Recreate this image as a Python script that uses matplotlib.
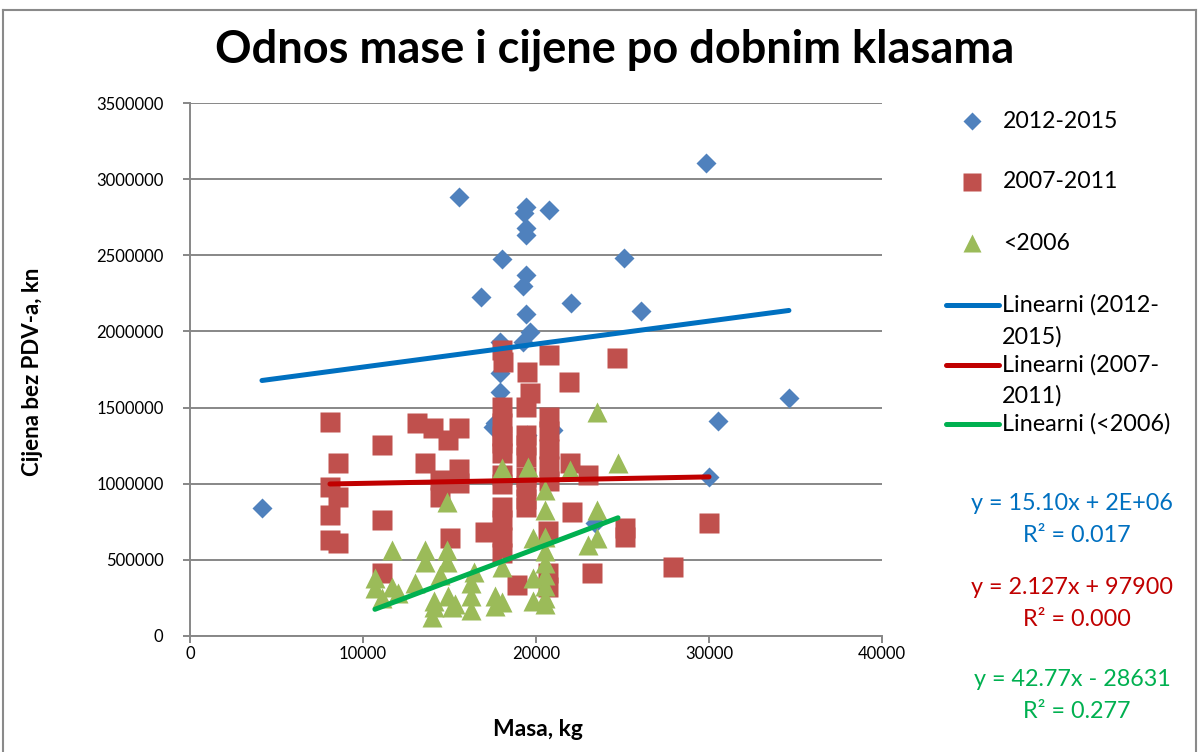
import matplotlib
matplotlib.use("Agg")
import matplotlib.pyplot as plt
from matplotlib.lines import Line2D
from matplotlib.ticker import FuncFormatter

plt.rcParams['font.family'] = ['Lato', 'DejaVu Sans']

# ---------------- data ----------------
title = "Odnos mase i cijene po dobnim klasama"
x_label = "Masa, kg"
y_label = "Cijena bez PDV-a, kn"
series_names = ["2012-2015", "2007-2011", "<2006"]
trend_names = ["Linearni (2012-", "2015)", "Linearni (2007-", "2011)", "Linearni (<2006)"]

blue_x = [4160, 15550, 19420, 19300, 19420, 19420, 18030, 19420, 19250, 16820,
          19420, 19650, 19250, 17920, 17920, 17920, 29830, 20750, 25080, 22020,
          26070, 34620, 30520, 30000, 23410, 17630, 19480, 17510, 20980]
blue_y = [840000, 2883000, 2817000, 2778000, 2679000, 2633000, 2476000, 2371000, 2298000, 2226000,
          2115000, 1996000, 1931000, 1931000, 1727000, 1600000, 3106000, 2797000, 2482000, 2187000,
          2134000, 1563000, 1412000, 1044000, 742000, 1400000, 1320000, 1372000, 1353000]

red_x = [8090, 11100, 8550, 8090, 8550, 8090, 8090, 8550, 11100, 11100,
         13120, 14050, 15550, 14910, 13580, 15550, 14450, 15550, 14450, 15030, 17050,
         18030, 18090, 18030, 18030, 18030, 18030, 18030, 18030, 18030, 18030, 18030, 18030, 18030,
         19480, 19650, 19420, 19420, 19420, 19420, 19420, 19420, 19420, 19420,
         20750, 20750, 20750, 20750, 20750, 20750, 20690, 20690, 20690,
         18900, 21910, 21960, 23000, 24680, 22080, 25140, 25140, 23240, 30000, 27920]
red_y = [1405000, 1254000, 1136000, 979000, 913000, 795000, 631000, 611000, 762000, 414000,
         1399000, 1366000, 1366000, 1287000, 1136000, 1097000, 1024000, 1005000, 913000, 644000, 683000,
         1878000, 1800000, 1504000, 1400000, 1313000, 1270000, 1200000, 1057000, 1000000, 847000, 762000, 650000, 545000,
         1734000, 1596000, 1504000, 1323000, 1254000, 1175000, 1044000, 985000, 847000, 900000,
         1845000, 1440000, 1346000, 1228000, 1116000, 1018000, 690000, 414000, 323000,
         335000, 1668000, 1136000, 1057000, 1826000, 814000, 709000, 650000, 414000, 742000, 453000]

green_x = [10690, 10690, 11100, 11680, 11680, 12020, 13000, 13580, 13580, 13990,
           14100, 14100, 14450, 14850, 14850, 14850, 14910, 15140, 15320, 16240,
           16240, 16240, 16400, 17630, 17630, 18030, 18030, 18030, 19540, 19830,
           19830, 19830, 20520, 20520, 20520, 20520, 20520, 20520, 20520, 20520,
           20520, 21960, 23530, 24740, 23530, 23530, 23000]
green_y = [381000, 315000, 250000, 565000, 322000, 280000, 348000, 565000, 486000, 125000,
           230000, 190000, 400000, 565000, 486000, 880000, 260000, 190000, 210000, 348000,
           260000, 170000, 420000, 260000, 200000, 453000, 1103000, 225000, 1110000, 644000,
           380000, 230000, 959000, 827000, 650000, 560000, 480000, 400000, 330000, 250000,
           210000, 1090000, 1471000, 1136000, 827000, 644000, 600000]

# trendline coefficients (y = slope*x + intercept), as drawn in the chart
trend_slope = [15.10, 2.127, 42.77]
trend_intercept = [1615000, 981000, -282000]
eq_texts = ["y = 15.10x + 2E+06", "y = 2.127x + 97900", "y = 42.77x - 28631"]
r2_texts = ["R\u00b2 = 0.017", "R\u00b2 = 0.000", "R\u00b2 = 0.277"]

x_ticks = [0, 10000, 20000, 30000, 40000]
y_ticks = [0, 500000, 1000000, 1500000, 2000000, 2500000, 3000000, 3500000]

# ---------------- style ----------------
c_blue, c_red, c_green = "#4F81BD", "#C0504D", "#9BBB59"
t_blue, t_red, t_green = "#0070C0", "#C00000", "#00B050"
grid_c = "#878787"

W, H = 1199, 752
fx = lambda px: px / W
fy = lambda py: 1 - py / H

fig = plt.figure(figsize=(W / 100, H / 100), dpi=100)
ax = fig.add_axes([fx(190), fy(636), 692 / W, 533 / H])

ax.plot(blue_x, blue_y, linestyle='none', marker='D', ms=10, color=c_blue, mec='none', zorder=3)
ax.plot(red_x, red_y, linestyle='none', marker='s', ms=14, color=c_red, mec='none', zorder=4)
ax.plot(green_x, green_y, linestyle='none', marker='^', ms=14, color=c_green, mec='none', zorder=5)

for xs, s, b, c in zip([blue_x, red_x, green_x], trend_slope, trend_intercept, [t_blue, t_red, t_green]):
    x0, x1 = min(xs), max(xs)
    ax.plot([x0, x1], [s * x0 + b, s * x1 + b], color=c, lw=3.6, solid_capstyle='round', zorder=6)

ax.set_xlim(0, 40000)
ax.set_ylim(0, 3500000)
ax.set_xticks(x_ticks)
ax.set_yticks(y_ticks)
ax.yaxis.set_major_formatter(FuncFormatter(lambda v, p: f"{int(v)}"))
ax.xaxis.set_major_formatter(FuncFormatter(lambda v, p: f"{int(v)}"))
ax.yaxis.grid(True, color=grid_c, lw=1.4)
ax.set_axisbelow(True)
for sp in ['top', 'right']:
    ax.spines[sp].set_visible(False)
for sp in ['left', 'bottom']:
    ax.spines[sp].set_color(grid_c)
    ax.spines[sp].set_linewidth(1.4)
ax.tick_params(axis='both', direction='out', length=5, width=1.4, color=grid_c, labelsize=12)
ax.tick_params(axis='y', pad=14)
ax.tick_params(axis='x', pad=2)

# titles
fig.text(fx(615), fy(50), title, ha='center', va='center', fontsize=32.5, fontweight='bold')
fig.text(fx(538), fy(730), x_label, ha='center', va='center', fontsize=16.5, fontweight='bold')
fig.text(fx(33), fy(372), y_label, ha='center', va='center', fontsize=16, fontweight='bold', rotation=90)

# legend (manual)
for py, mk, ms, c, name in zip([121, 182, 243], ['D', 's', '^'], [9, 12.5, 13],
                               [c_blue, c_red, c_green], series_names):
    fig.add_artist(Line2D([fx(972)], [fy(py)], transform=fig.transFigure, marker=mk, ms=ms,
                          color=c, mec='none', linestyle='none'))
    fig.text(fx(1003), fy(py), name, ha='left', va='center', fontsize=16.6)

for py, c in zip([305, 365, 424], [t_blue, t_red, t_green]):
    fig.add_artist(Line2D([fx(946), fx(999)], [fy(py), fy(py)], transform=fig.transFigure,
                          color=c, lw=3.6, solid_capstyle='round'))
for py, txt in zip([305, 337, 365, 396, 424], trend_names):
    fig.text(fx(1002), fy(py), txt, ha='left', va='center', fontsize=16.8)

# equations
for (y1, y2), eq, r2, c in zip([(504, 535), (588, 619), (680, 711)], eq_texts, r2_texts,
                               [t_blue, t_red, t_green]):
    fig.text(fx(1072), fy(y1), eq, ha='center', va='center', fontsize=16.8, color=c)
    fig.text(fx(1077), fy(y2), r2, ha='center', va='center', fontsize=16.8, color=c)

# chart border
bc = "#8a8a8a"
fig.add_artist(Line2D([fx(3), fx(3)], [fy(10), 0], transform=fig.transFigure, color=bc, lw=1.5))
fig.add_artist(Line2D([fx(3), fx(1196)], [fy(10), fy(10)], transform=fig.transFigure, color=bc, lw=1.5))
fig.add_artist(Line2D([fx(1196), fx(1196)], [fy(10), 0], transform=fig.transFigure, color=bc, lw=1.5))

fig.savefig("out.png", dpi=100)
